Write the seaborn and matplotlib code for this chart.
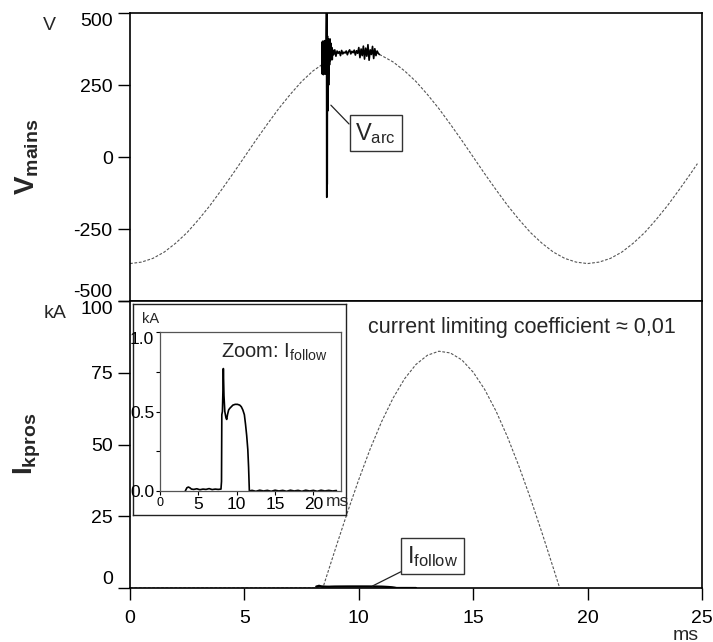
import numpy as np
import pandas as pd
import matplotlib
matplotlib.use('Agg')
import matplotlib.pyplot as plt
import seaborn as sns

# mains voltage (V), before and after the arc
t_mains_a = [0, 0.5, 1, 1.5, 2, 2.5, 3, 3.5, 4, 4.5, 5, 5.5, 6, 6.5, 7, 7.5, 8, 8.38]
v_mains_a = [-370, -365, -352, -330, -299, -262, -217, -168, -114, -58, 0, 58, 114, 168, 217, 262, 299, 320]
t_mains_b = [10.9, 11, 11.5, 12, 12.5, 13, 13.5, 14, 14.5, 15, 15.5, 16, 16.5, 17, 17.5, 18,
             18.5, 19, 19.5, 20, 20.5, 21, 21.5, 22, 22.5, 23, 23.5, 24, 24.5, 24.8]
v_mains_b = [356, 352, 330, 299, 262, 217, 168, 114, 58, 0, -58, -114, -168, -217, -262, -299,
             -330, -352, -365, -370, -365, -352, -330, -299, -262, -217, -168, -114, -58, -23]

# arc voltage (V): burst at ignition, then noisy plateau
t_arc = [8.38, 8.39, 8.40, 8.41, 8.42, 8.43, 8.44, 8.45, 8.46, 8.47, 8.48, 8.49, 8.50, 8.51,
         8.52, 8.53, 8.54, 8.55, 8.56, 8.57, 8.58, 8.59, 8.60, 8.605, 8.61, 8.615, 8.62, 8.63,
         8.64, 8.65, 8.66, 8.67, 8.68, 8.70, 8.72, 8.74, 8.76, 8.78, 8.80, 8.82, 8.84, 8.86,
         8.90, 8.95, 9.00, 9.05, 9.10, 9.15, 9.20, 9.25, 9.30, 9.35, 9.40, 9.45, 9.50, 9.55,
         9.60, 9.65, 9.70, 9.75, 9.80, 9.85, 9.90, 9.95, 10.00, 10.05, 10.10, 10.15, 10.20,
         10.25, 10.30, 10.35, 10.40, 10.45, 10.50, 10.55, 10.60, 10.65, 10.70, 10.75, 10.80,
         10.85, 10.90]
v_arc = [320, 290, 398, 288, 402, 292, 396, 286, 400, 295, 392, 290, 404, 300,
         395, 288, 385, 305, 398, 296, 430, 505, -140, 505, -130, 490, -95, 420,
         160, 410, 200, 395, 250, 405, 320, 410, 335, 395, 345, 380, 338, 372,
         355, 372, 350, 368, 360, 366, 352, 370, 358, 364, 361, 368, 355, 366,
         372, 358, 367, 362, 371, 354, 369, 360, 380, 345, 375, 352, 385,
         340, 378, 350, 390, 336, 372, 356, 384, 342, 376, 352, 368,
         360, 356]

# prospective short circuit current (kA)
t_pros = [0, 8.43, 8.5, 9, 9.5, 10, 10.5, 11, 11.5, 12, 12.5, 13, 13.5, 14, 14.5, 15,
          15.5, 16, 16.5, 17, 17.5, 18, 18.5, 18.78, 19.0]
i_pros = [0, 0, 1.8, 14.2, 26.3, 37.8, 48.5, 58.0, 66.2, 72.9, 77.9, 81.1, 82.5, 81.9, 79.5,
          75.2, 69.2, 61.6, 52.6, 42.4, 31.3, 19.4, 7.0, 0, -5.5]

# follow current (kA)
t_follow = [3.3, 3.5, 3.7, 3.9, 4.1, 4.4, 4.8, 5.2, 5.6, 6.0, 6.4, 6.8, 7.2, 7.6, 7.95,
            8.02, 8.06, 8.14, 8.2, 8.26, 8.34, 8.45, 8.6, 8.7, 8.8, 8.95, 9.1, 9.3, 9.5,
            9.8, 10.1, 10.4, 10.6, 10.8, 11.0, 11.15, 11.3, 11.45, 11.55, 11.65, 12.0,
            12.5, 13.0, 13.5, 14.0, 14.5, 15.0, 15.5, 16.0, 16.5, 17.0, 17.5, 18.0, 18.5,
            19.0, 19.5, 20.0, 20.5, 21.0, 21.5, 22.0, 22.5, 23.0]
i_follow = [0.0, 0.02, 0.025, 0.02, 0.012, 0.01, 0.014, 0.008, 0.012, 0.01, 0.015, 0.009,
            0.012, 0.01, 0.012, 0.06, 0.48, 0.50, 0.62, 0.77, 0.60, 0.50, 0.46, 0.45, 0.48,
            0.51, 0.52, 0.53, 0.54, 0.545, 0.545, 0.54, 0.53, 0.51, 0.48, 0.42, 0.35, 0.26,
            0.15, 0.0, 0.004, -0.002, 0.005, 0.0, 0.004, -0.002, 0.005, 0.0, 0.004, -0.002,
            0.005, 0.0, 0.004, -0.002, 0.005, 0.0, 0.004, -0.002, 0.005, 0.0, 0.004, 0.0, 0.003]

sns.set_theme(style='white')
plt.rcParams['font.family'] = ['Liberation Sans', 'DejaVu Sans']
plt.rcParams['axes.unicode_minus'] = False
plt.rcParams['mathtext.fontset'] = 'custom'
plt.rcParams['mathtext.rm'] = 'Liberation Sans'
plt.rcParams['mathtext.bf'] = 'Liberation Sans:bold'
plt.rcParams['mathtext.it'] = 'Liberation Sans:italic'

W, H = 713, 642
fig = plt.figure(figsize=(W / 100, H / 100), dpi=100)
ax1 = fig.add_axes([130 / W, 1 - 301 / H, 572 / W, 288 / H])
ax2 = fig.add_axes([130 / W, 1 - 588 / H, 572 / W, 287 / H])

dots = dict(color='#555555', lw=0.8, ls=(0, (2.5, 1.5)))

# top panel: V mains
sns.lineplot(x=t_mains_a, y=v_mains_a, ax=ax1, sort=False, estimator=None, **dots)
sns.lineplot(x=t_mains_b, y=v_mains_b, ax=ax1, sort=False, estimator=None, **dots)
sns.lineplot(x=t_arc, y=v_arc, ax=ax1, sort=False, estimator=None, color='black', lw=1.2)
ax1.set_xlim(0, 25)
ax1.set_ylim(-500, 500)
ax1.set_yticks([-500, -250, 0, 250, 500])
ax1.set_xticks([])
ax1.annotate(r'$\mathrm{V_{arc}}$', xy=(8.78, 180), xytext=(10.74, 83), fontsize=17,
             ha='center', va='center',
             bbox=dict(boxstyle='square,pad=0.25', fc='white', ec='#333333', lw=1),
             arrowprops=dict(arrowstyle='-', color='#222222', lw=0.9, shrinkA=0, shrinkB=0,
                             relpos=(0, 0.6)))

# bottom panel: I prospective and I follow
sns.lineplot(x=t_pros, y=i_pros, ax=ax2, sort=False, estimator=None, **dots)
fol = pd.DataFrame({'t': t_follow, 'i': i_follow})
fol_main = fol[(fol.t > 8.1) & (fol.t < 12.6)]
sns.lineplot(data=fol_main, x='t', y='i', ax=ax2, sort=False, estimator=None, color='black', lw=1.6)
ax2.set_xlim(0, 25)
ax2.set_ylim(0, 100)
ax2.set_yticks([0, 25, 50, 75, 100])
ax2.set_xticks([0, 5, 10, 15, 20, 25])
ax2.text(10.39, 88.9, 'current limiting coefficient \u2248 0,01', fontsize=15.5, va='baseline')
ax2.annotate(r'$\mathrm{I_{follow}}$', xy=(10.6, 0.7), xytext=(13.23, 11.1), fontsize=17,
             ha='center', va='center',
             bbox=dict(boxstyle='square,pad=0.25', fc='white', ec='#333333', lw=1),
             arrowprops=dict(arrowstyle='-', color='#222222', lw=0.9, shrinkA=0, shrinkB=0,
                             relpos=(0, 0)))

for ax in (ax1, ax2):
    ax.set_xlabel('')
    ax.set_ylabel('')
    for s in ax.spines.values():
        s.set_color('black')
        s.set_linewidth(1.2)
    ax.tick_params(axis='both', direction='out', length=8.5, width=1, pad=4,
                   labelsize=14, colors='black', left=True, bottom=True)
ax2.tick_params(axis='x', pad=7)

yl1 = ax1.get_yticklabels()
yl1[0].set_va('bottom')
yl1[-1].set_va('top')
yl2 = ax2.get_yticklabels()
yl2[0].set_va('bottom')
yl2[-1].set_va('top')

# inset
frame = fig.add_axes([133 / W, 1 - 515 / H, 213 / W, 211 / H])
frame.set_xticks([])
frame.set_yticks([])
frame.set_facecolor('white')
for s in frame.spines.values():
    s.set_color('#222222')
    s.set_linewidth(1)

ins = fig.add_axes([160 / W, 1 - 491 / H, 181 / W, 159 / H])
sns.lineplot(data=fol, x='t', y='i', ax=ins, sort=False, estimator=None, color='black', lw=1.2)
ins.set_xlim(0, 23.6)
ins.set_ylim(0, 1)
ins.set_xlabel('')
ins.set_ylabel('')
ins.set_yticks([0, 0.5, 1.0])
ins.set_yticklabels(['0.0', '0.5', '1.0'])
ins.set_yticks([0.25, 0.75], minor=True)
ins.set_xticks([0, 5, 10, 15, 20])
ins.set_xticklabels(['0', '5', '10', '15', '20'])
ins.tick_params(axis='both', which='both', direction='out', length=3, width=0.8, pad=1.2,
                labelsize=12.5, colors='black', left=True, bottom=True)
ins.get_xticklabels()[0].set_fontsize(9)
ins.get_yticklabels()[-1].set_va('top')
for s in ins.spines.values():
    s.set_color('#555555')
    s.set_linewidth(0.9)
ins.text(8.0, 0.87, r'Zoom: $\mathrm{I_{follow}}$', fontsize=14.5, va='center')
fig.text(337 / W, 1 - 502 / H, 'ms', fontsize=12.5, ha='center', va='center')
fig.text(151 / W, 1 - 319 / H, 'kA', fontsize=10.5, ha='center', va='center')

# units and axis names
fig.text(49 / W, 1 - 25 / H, 'V', fontsize=14, ha='center', va='center')
fig.text(55 / W, 1 - 313 / H, 'kA', fontsize=14, ha='center', va='center')
fig.text(686 / W, 1 - 635 / H, 'ms', fontsize=14, ha='center', va='center')
fig.text(27 / W, 1 - 157 / H, r'$\mathbf{V_{mains}}$', rotation=90, fontsize=20,
         ha='center', va='center')
fig.text(27 / W, 1 - 444 / H, r'$\mathbf{I_{kpros}}$', rotation=90, fontsize=20,
         ha='center', va='center')

fig.savefig('out.png', dpi=100)
